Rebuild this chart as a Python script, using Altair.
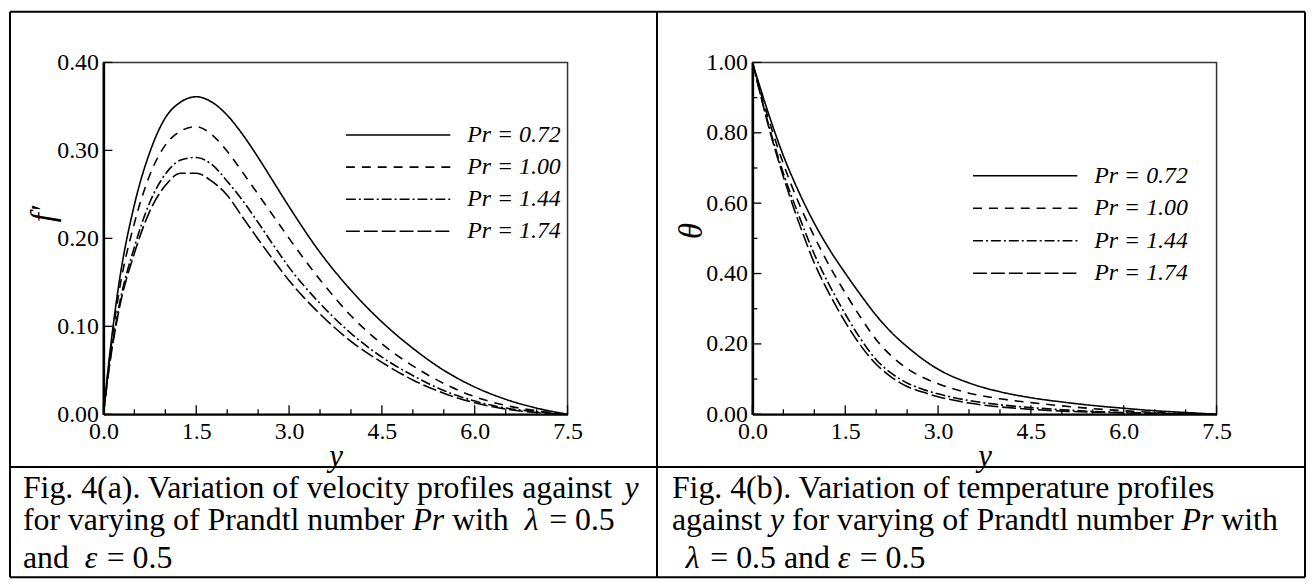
import altair as alt
import pandas as pd

# ---------------- data ----------------
Y_POS = [0, 0.1, 0.25, 0.5, 0.75, 1.0, 1.25, 1.5, 1.75, 2.0, 2.25, 2.5, 2.75, 3.0,
         3.5, 4.0, 4.5, 5.0, 5.5, 6.0, 6.5, 7.0, 7.5]
PR_LABELS = ["Pr = 0.72", "Pr = 1.00", "Pr = 1.44", "Pr = 1.74"]

# velocity profiles f'
FP_072 = [0, 0.067, 0.148, 0.238, 0.298, 0.337, 0.355, 0.361, 0.355, 0.340, 0.318, 0.292,
          0.264, 0.236, 0.184, 0.141, 0.105, 0.075, 0.050, 0.031, 0.017, 0.007, 0.0]
FP_100 = [0, 0.063, 0.138, 0.217, 0.272, 0.306, 0.322, 0.327, 0.318, 0.299, 0.275, 0.250,
          0.225, 0.200, 0.153, 0.112, 0.080, 0.055, 0.035, 0.020, 0.010, 0.004, 0.0]
FP_144 = [0, 0.058, 0.122, 0.190, 0.241, 0.273, 0.289, 0.292, 0.284, 0.265, 0.243, 0.218,
          0.192, 0.167, 0.126, 0.092, 0.065, 0.044, 0.027, 0.015, 0.007, 0.003, 0.0]
FP_174 = [0, 0.056, 0.118, 0.183, 0.231, 0.260, 0.274, 0.274, 0.265, 0.249, 0.224, 0.199,
          0.175, 0.152, 0.114, 0.083, 0.059, 0.039, 0.024, 0.013, 0.006, 0.002, 0.0]

# temperature profiles theta
TH_072 = [1.0, 0.943, 0.860, 0.735, 0.632, 0.543, 0.467, 0.401, 0.339, 0.281, 0.232, 0.192,
          0.157, 0.128, 0.089, 0.064, 0.047, 0.035, 0.025, 0.017, 0.010, 0.005, 0.0]
TH_100 = [1.0, 0.935, 0.845, 0.712, 0.600, 0.505, 0.420, 0.345, 0.275, 0.212, 0.165, 0.130,
          0.105, 0.087, 0.060, 0.044, 0.033, 0.024, 0.016, 0.010, 0.005, 0.002, 0.0]
TH_144 = [1.0, 0.930, 0.830, 0.685, 0.565, 0.455, 0.365, 0.285, 0.214, 0.155, 0.116, 0.089,
          0.071, 0.058, 0.039, 0.027, 0.019, 0.013, 0.008, 0.005, 0.003, 0.001, 0.0]
TH_174 = [1.0, 0.930, 0.825, 0.675, 0.545, 0.430, 0.340, 0.262, 0.195, 0.142, 0.105, 0.079,
          0.063, 0.050, 0.032, 0.021, 0.014, 0.009, 0.006, 0.004, 0.002, 0.001, 0.0]

X_MAJOR = [0, 1.5, 3.0, 4.5, 6.0, 7.5]
X_MINOR = [0.5, 1.0, 2.0, 2.5, 3.5, 4.0, 5.0, 5.5, 6.5, 7.0]
FP_MAJOR = [0, 0.1, 0.2, 0.3, 0.4]
TH_MAJOR = [0, 0.2, 0.4, 0.6, 0.8, 1.0]
TH_MINOR = [0.1, 0.3, 0.5, 0.7, 0.9]

CAP_LEFT = [
    [("Fig. 4(a). Variation of velocity profiles against ", False), ("y", True)],
    [("for varying of Prandtl number ", False), ("Pr", True), (" with  ", False),
     ("λ", True), (" = 0.5", False)],
    [("and  ", False), ("ε", True), (" = 0.5", False)],
]
CAP_RIGHT = [
    [("Fig. 4(b). Variation of temperature profiles", False)],
    [("against ", False), ("y", True), (" for varying of Prandtl number ", False),
     ("Pr", True), (" with", False)],
    [(" ", False), ("λ", True), (" = 0.5 and ", False), ("ε", True), (" = 0.5", False)],
]

# ---------------- styling ----------------
DASHES = [[1, 0], [9, 7], [10, 3, 2, 3], [14, 4]]
W, H = 467, 354
FONT = "Liberation Serif"
LW = 1.6

ROMAN = {' ': 250, '(': 333, ')': 333, '.': 250, '=': 564, 'F': 556, 'P': 556, 'V': 722,
         'a': 444, 'b': 500, 'c': 444, 'd': 500, 'e': 444, 'f': 333, 'g': 500, 'h': 500,
         'i': 278, 'l': 278, 'm': 778, 'n': 500, 'o': 500, 'p': 500, 'r': 333, 's': 389,
         't': 278, 'u': 500, 'v': 500, 'w': 722, 'y': 500}
ITALIC = {' ': 250, 'P': 611, 'r': 389, 'y': 444, 'λ': 520, 'ε': 440}


def text_width(s, ital, size):
    table = ITALIC if ital else ROMAN
    return sum(table.get(c, 500) for c in s) * size / 1000.0


ONE = pd.DataFrame({"k": [0]})


def panel(series_vals, ymax, y_major, y_minor, y_title, title_xy, legend_pos,
          captions, borders):
    rows = []
    for lab, vals in zip(PR_LABELS, series_vals):
        for p, v in zip(Y_POS, vals):
            rows.append({"pos": p, "val": v, "series": lab})
    df = pd.DataFrame(rows)
    xs = alt.Scale(domain=[0, 7.5], nice=False, zero=False)
    ys = alt.Scale(domain=[0, ymax], nice=False, zero=False)
    x_axis = alt.Axis(
        values=X_MAJOR, format=".1f", ticks=False, grid=False,
        labelFont=FONT, labelFontSize=24, labelColor="black", labelPadding=5,
        labelFlush=False, labelOverlap=False, labelBound=False,
        domainColor="black", domainWidth=2,
        title="y", titleFont=FONT, titleFontStyle="italic", titleFontWeight="normal",
        titleFontSize=31, titleColor="black", titleX=W / 2, titleY=43,
        titleBaseline="middle", titleAlign="center")
    y_axis = alt.Axis(
        values=y_major, format=".2f", ticks=False, grid=False,
        labelFont=FONT, labelFontSize=24, labelColor="black", labelPadding=5,
        labelFlush=False, labelOverlap=False, labelBound=False,
        domainColor="black", domainWidth=2.5,
        title=y_title, titleFont=FONT, titleFontStyle="italic",
        titleFontWeight="normal", titleFontSize=33, titleColor="black",
        titleX=title_xy[0], titleY=title_xy[1], titleAngle=270,
        titleBaseline="middle", titleAlign="center")

    lines = alt.Chart(df).mark_line(color="black", strokeWidth=LW,
                                    interpolate="monotone", clip=True).encode(
        x=alt.X("pos:Q", scale=xs, axis=x_axis, title="y"),
        y=alt.Y("val:Q", scale=ys, axis=y_axis, title=y_title),
        strokeDash=alt.StrokeDash("series:N", scale=alt.Scale(domain=PR_LABELS, range=DASHES),
                                  legend=None),
    )
    layers = [lines]

    # inward ticks (drawn through the same scales)
    for vals, ln in ((X_MAJOR, 9), (X_MINOR, 5)):
        layers.append(alt.Chart(pd.DataFrame({"pos": vals})).mark_rule(
            color="black", strokeWidth=1.3).encode(
            x=alt.X("pos:Q", scale=xs, axis=x_axis, title="y"),
            y=alt.value(H), y2=alt.value(H - ln)))
    for vals, ln in ((y_major, 9), (y_minor, 5)):
        if not vals:
            continue
        layers.append(alt.Chart(pd.DataFrame({"val": vals})).mark_rule(
            color="black", strokeWidth=1.3).encode(
            y=alt.Y("val:Q", scale=ys, axis=y_axis, title=y_title),
            x=alt.value(0), x2=alt.value(ln)))

    # in-plot legend
    lx0, lx1, ly0, dy, tx = legend_pos
    for i, lab in enumerate(PR_LABELS):
        ly = ly0 + dy * i
        d = pd.DataFrame({"series": [lab]})
        layers.append(alt.Chart(d).mark_rule(color="black", strokeWidth=LW,
                                             strokeDash=DASHES[i]).encode(
            x=alt.value(lx0), x2=alt.value(lx1), y=alt.value(ly)))
        layers.append(alt.Chart(d).mark_text(
            align="left", baseline="middle", font=FONT, fontSize=24,
            fontStyle="italic", color="black").encode(
            x=alt.value(tx), y=alt.value(ly), text="series:N"))

    # captions
    cx0, baselines = captions[0], captions[1]
    for segs, (bx, by) in zip(captions[2], baselines):
        x = cx0 + bx
        for txt, ital in segs:
            shown = txt.strip()
            lead = len(txt) - len(txt.lstrip())
            xx = x + text_width(txt[:lead], ital, 32)
            if shown:
                layers.append(alt.Chart(ONE).mark_text(
                    align="left", baseline="alphabetic", font=FONT, fontSize=32,
                    fontStyle="italic" if ital else "normal", color="black").encode(
                    x=alt.value(xx), y=alt.value(by), text=alt.value(shown)))
            x += text_width(txt, ital, 32)

    # table borders
    for (x1, x2, y1, y2) in borders:
        layers.append(alt.Chart(ONE).mark_rule(color="black", strokeWidth=2).encode(
            x=alt.value(x1), x2=alt.value(x2), y=alt.value(y1), y2=alt.value(y2)))

    return alt.layer(*layers).properties(width=W, height=H)


BOTTOM = 518
left_borders = [
    (-94, 1209, -51, -51),        # top
    (-94, 1209, BOTTOM, BOTTOM),  # bottom
    (-94, 1209, 407, 407),        # caption separator
    (-94, -94, -51, BOTTOM),      # left
    (557, 557, -51, BOTTOM),      # middle divider
    (1209, 1209, -51, BOTTOM),    # right
]

left = panel([FP_072, FP_100, FP_144, FP_174], 0.4, FP_MAJOR, [], "f′", (-60, 152),
             (244, 349, 73, 32.3, 366), (-81, [(0, 438), (0, 470), (0, 509)], CAP_LEFT),
             left_borders)
right = panel([TH_072, TH_100, TH_144, TH_174], 1.0, TH_MAJOR, TH_MINOR, "θ", (-61, 169),
              (222, 327, 114, 32.7, 344),
              (-81, [(0, 438), (0, 470), (6, 509)], CAP_RIGHT), [])

chart = alt.hconcat(left, right, spacing=186, bounds="flush").properties(
    padding=0, background="white"
).configure_view(stroke="#333", strokeWidth=1.5)

chart.save("out.html", embed_options={"renderer": "svg", "actions": False})
